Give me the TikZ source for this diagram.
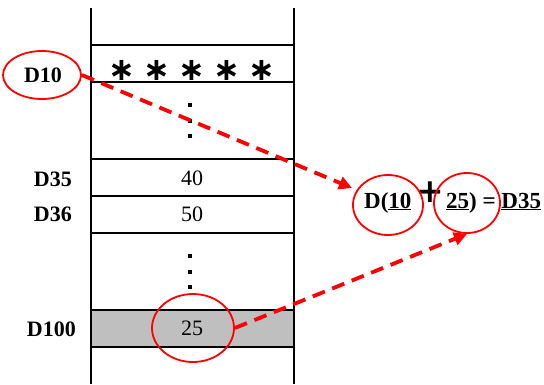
\documentclass[tikz,border=0pt]{standalone}
\usepackage{fontspec}
\setmainfont{Liberation Serif}
\newfontfamily\symfont{DejaVu Sans}
\usetikzlibrary{shapes.geometric,arrows.meta}
\begin{document}
\begin{tikzpicture}[x=1pt,y=-1pt,
  wall/.style={line width=1.5pt,black},
  lbl/.style={font=\fontsize{22}{22}\selectfont\bfseries, inner sep=0pt},
  val/.style={font=\fontsize{22}{22}\selectfont, inner sep=0pt},
  ring/.style={draw=red, line width=1.8pt, ellipse, inner sep=0pt},
  link/.style={red, line width=3.8pt, dash pattern=on 13pt off 8pt, -{Triangle[length=13pt,width=13pt]}},
  dotmark/.style={fill=black, minimum size=4pt, inner sep=0pt, rectangle},
  astk/.style={font=\symfont\bfseries\fontsize{32}{32}\selectfont, inner sep=0pt}
]
\useasboundingbox (0,0) rectangle (544,384);
% memory column
\fill[black!25] (91,310) rectangle (294,347);
\draw[wall] (91,8) -- (91,384);
\draw[wall] (294,8) -- (294,384);
\draw[wall] (91,45) -- (294,45);
\draw[wall] (91,82) -- (294,82);
\draw[wall] (91,159) -- (294,159);
\draw[wall] (91,196) -- (294,196);
\draw[wall] (91,233) -- (294,233);
\draw[wall] (91,310) -- (294,310);
\draw[wall] (91,347) -- (294,347);
% asterisks
\node[astk] (sta) at (122,70) {∗};
\node[astk] (stb) at (157,70) {∗};
\node[astk] (stc) at (192,70) {∗};
\node[astk] (std) at (227,70) {∗};
\node[astk] (ste) at (262,70) {∗};
% dots
\node[dotmark] (p1) at (190,105) {};
\node[dotmark] (p2) at (190,121) {};
\node[dotmark] (p3) at (190,136) {};
\node[dotmark] (p4) at (190,256) {};
\node[dotmark] (p5) at (190,272) {};
\node[dotmark] (p6) at (190,287) {};
% values
\node[val] (v40) at (192,178) {40};
\node[val] (v50) at (192,214) {50};
\node[val] (v25) at (192,328) {25};
% labels
\node[lbl] (l10) at (43,75) {D10};
\node[lbl, anchor=east] (l35) at (72,179) {D35};
\node[lbl, anchor=east] (l36) at (72,214) {D36};
\node[lbl, anchor=east] (l100) at (76,329) {D100};
% formula
\node[lbl, font=\fontsize{23}{23}\selectfont\bfseries, anchor=base west] (fl) at (364,208) {D(\underline{10}};
\node[font=\symfont\bfseries\fontsize{33}{33}\selectfont, inner sep=0pt] (plus) at (430,192) {+};
\node[lbl, font=\fontsize{23}{23}\selectfont\bfseries, anchor=base west] (fr) at (446,208) {\underline{25}) = \underline{D35}};
% red rings
\node[ring, minimum width=78pt, minimum height=48pt] (r10l) at (42,75) {};
\node[ring, minimum width=70pt, minimum height=60pt] (r10) at (388,205) {};
\node[ring, minimum width=66pt, minimum height=60pt] (r25) at (467,203) {};
\node[ring, minimum width=82pt, minimum height=68pt] (r100) at (193,328) {};
% arrows
\coordinate (tip1) at (352,188);
\draw[link] (r10l.east) -- (tip1);
\draw[link] (r100.east) -- (r25.south);
\end{tikzpicture}
\end{document}
